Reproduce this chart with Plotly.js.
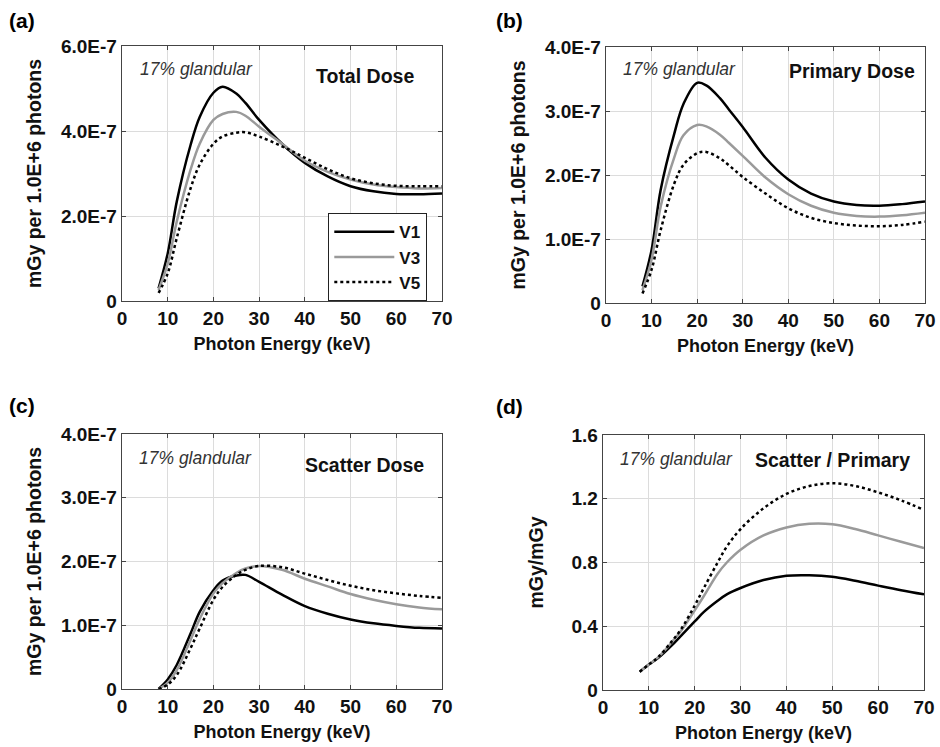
<!DOCTYPE html>
<html>
<head>
<meta charset="utf-8">
<script src="https://cdn.plot.ly/plotly-3.0.1.min.js"></script>
<style>html,body{margin:0;padding:0;background:#fff;}#chart{width:940px;height:747px;}</style>
</head>
<body>
<div id="chart"></div>
<script>
// Photon energy (keV)
const energy = [8,10,12,15,17,20,22,25,27,30,35,40,45,50,55,60,65,70];

// (a) Total dose, in units of 1.0E-7 mGy per 1.0E+6 photons
const totalV1 = [0.30,1.12,2.35,3.67,4.33,4.90,5.04,4.88,4.66,4.26,3.70,3.25,2.93,2.70,2.58,2.52,2.51,2.53];
const totalV3 = [0.26,0.88,1.88,3.09,3.70,4.26,4.40,4.45,4.36,4.10,3.70,3.30,3.04,2.86,2.74,2.68,2.65,2.66];
const totalV5 = [0.19,0.65,1.49,2.65,3.21,3.70,3.87,3.96,3.97,3.87,3.64,3.37,3.10,2.89,2.77,2.71,2.70,2.70];

// (b) Primary dose, 1.0E-7 units
const primV1 = [0.26,0.83,1.77,2.65,3.11,3.44,3.40,3.20,3.02,2.75,2.27,1.93,1.71,1.585,1.53,1.52,1.545,1.585];
const primV3 = [0.20,0.68,1.51,2.28,2.62,2.78,2.76,2.63,2.50,2.30,1.96,1.70,1.52,1.41,1.36,1.35,1.37,1.41];
const primV5 = [0.15,0.52,1.14,1.87,2.16,2.34,2.36,2.26,2.15,1.97,1.71,1.48,1.33,1.25,1.21,1.20,1.22,1.27];

// (c) Scatter dose, 1.0E-7 units
const scatV1 = [0.00,0.15,0.38,0.87,1.21,1.55,1.70,1.78,1.79,1.68,1.48,1.30,1.18,1.09,1.03,0.99,0.96,0.95];
const scatV3 = [0.00,0.10,0.30,0.77,1.10,1.50,1.66,1.82,1.89,1.93,1.87,1.73,1.61,1.49,1.40,1.33,1.28,1.25];
const scatV5 = [0.00,0.07,0.22,0.64,0.95,1.40,1.60,1.79,1.87,1.93,1.91,1.81,1.71,1.62,1.55,1.50,1.46,1.43];

// (d) Scatter / Primary ratio (mGy/mGy)
const ratioV1 = [0.115,0.16,0.20,0.28,0.34,0.43,0.49,0.56,0.60,0.64,0.69,0.717,0.72,0.71,0.685,0.655,0.626,0.60];
const ratioV3 = [0.115,0.16,0.205,0.30,0.37,0.50,0.59,0.73,0.80,0.88,0.97,1.02,1.043,1.04,1.01,0.97,0.93,0.89];
const ratioV5 = [0.115,0.16,0.205,0.305,0.38,0.53,0.64,0.80,0.90,1.01,1.14,1.23,1.28,1.297,1.28,1.24,1.19,1.13];

const seriesNames = ['V1','V3','V5'];
const xTicks = [0,10,20,30,40,50,60,70];
const yTicksA = [0,2,4,6], yTextA = ['0','2.0E-7','4.0E-7','6.0E-7'];
const yTicksB = [0,1,2,3,4], yTextB = ['0','1.0E-7','2.0E-7','3.0E-7','4.0E-7'];
const yTicksD = [0,0.4,0.8,1.2,1.6], yTextD = ['0','0.4','0.8','1.2','1.6'];
const panelLabels = ['(a)','(b)','(c)','(d)'];
const panelTitles = ['Total Dose','Primary Dose','Scatter Dose','Scatter / Primary'];
const noteText = '17% glandular';
const xTitle = 'Photon Energy (keV)';
const yTitleDose = 'mGy per 1.0E+6 photons';
const yTitleRatio = 'mGy/mGy';

const E7 = 1e-7;
const styles = [
  {color:'#000000', width:2.5, dash:'solid'},
  {color:'#9a9a9a', width:2.5, dash:'solid'},
  {color:'#000000', width:2.5, dash:'dot'}
];

const panels = [
  {data:[totalV1,totalV3,totalV5], scale:E7, xa:'x', ya:'y', legend:true},
  {data:[primV1,primV3,primV5], scale:E7, xa:'x2', ya:'y2', legend:false},
  {data:[scatV1,scatV3,scatV5], scale:E7, xa:'x3', ya:'y3', legend:false},
  {data:[ratioV1,ratioV3,ratioV5], scale:1, xa:'x4', ya:'y4', legend:false}
];

const traces = [];
panels.forEach(p => {
  p.data.forEach((vals, i) => {
    traces.push({
      x: energy,
      y: vals.map(v => v * p.scale),
      xaxis: p.xa, yaxis: p.ya,
      type: 'scatter', mode: 'lines',
      name: seriesNames[i],
      showlegend: p.legend,
      line: {color: styles[i].color, width: styles[i].width, dash: styles[i].dash, shape: 'spline', smoothing: 1}
    });
  });
});

const FONT = 'Liberation Sans, Arial, Helvetica, sans-serif';
const W = 940, H = 747;
function dx(a,b){return [a/W, b/W];}
function dy(top,bottom){return [1-bottom/H, 1-top/H];}

function xaxis(domain, anchor){
  return {
    domain: domain, anchor: anchor, range: [0,70],
    tickvals: xTicks, ticktext: xTicks.map(String),
    ticks: 'inside', ticklen: 4, tickcolor: '#444',
    showline: true, linecolor: '#444', linewidth: 1.3, mirror: 'ticks',
    showgrid: true, gridcolor: '#dcdcdc', gridwidth: 1,
    zeroline: false,
    tickfont: {family: FONT, size: 19, color: '#111', weight: 'bold'},
    title: {text: '<b>' + xTitle + '</b>', font: {family: FONT, size: 18, color: '#111'}, standoff: 9},
    fixedrange: true
  };
}
function yaxis(domain, anchor, range, vals, text, title, standoff){
  return {
    domain: domain, anchor: anchor, range: range,
    tickvals: vals, ticktext: text,
    ticks: 'inside', ticklen: 4, tickcolor: '#444',
    showline: true, linecolor: '#444', linewidth: 1.3, mirror: 'ticks',
    showgrid: true, gridcolor: '#dcdcdc', gridwidth: 1,
    zeroline: false,
    tickfont: {family: FONT, size: 19, color: '#111', weight: 'bold'},
    title: {text: '<b>' + title + '</b>', font: {family: FONT, size: 19.5, color: '#111'}, standoff: standoff},
    fixedrange: true
  };
}

const layout = {
  width: W, height: H,
  margin: {l:0, r:0, t:0, b:0},
  paper_bgcolor: '#fff', plot_bgcolor: '#fff',
  font: {family: FONT},
  showlegend: true,
  legend: {
    x: 328/W, y: 1-213/H, xanchor: 'left', yanchor: 'top',
    bgcolor: '#fff', bordercolor: '#222', borderwidth: 1.3,
    font: {family: FONT, size: 17, color: '#111', weight: 'bold'},
    itemwidth: 60, tracegroupgap: 0
  },
  xaxis:  xaxis(dx(122,442), 'y'),
  yaxis:  yaxis(dy(46,301), 'x', [0, 6*E7], yTicksA.map(v=>v*E7), yTextA, yTitleDose, 14),
  xaxis2: xaxis(dx(606,925), 'y2'),
  yaxis2: yaxis(dy(47,303), 'x2', [0, 4*E7], yTicksB.map(v=>v*E7), yTextB, yTitleDose, 14),
  xaxis3: xaxis(dx(122,442), 'y3'),
  yaxis3: yaxis(dy(434,689), 'x3', [0, 4*E7], yTicksB.map(v=>v*E7), yTextB, yTitleDose, 14),
  xaxis4: xaxis(dx(603,924), 'y4'),
  yaxis4: yaxis(dy(435,690), 'x4', [0, 1.6], yTicksD, yTextD, yTitleRatio, 22),
  annotations: []
};

// panel letters
const letterPos = [[22,20],[509,20],[22,405],[509,406]];
panelLabels.forEach((t,i) => {
  layout.annotations.push({
    xref:'paper', yref:'paper', x: letterPos[i][0]/W, y: 1-letterPos[i][1]/H,
    xanchor:'center', yanchor:'middle', showarrow:false,
    text: '<b>' + t + '</b>', font:{family: FONT, size: 21, color:'#000'}
  });
});
// notes
const notePos = [[196,69],[679,69],[195,458],[676,459]];
notePos.forEach(p => {
  layout.annotations.push({
    xref:'paper', yref:'paper', x: p[0]/W, y: 1-p[1]/H,
    xanchor:'center', yanchor:'middle', showarrow:false,
    text: '<i>' + noteText + '</i>', font:{family: FONT, size: 17.5, color:'#333'}
  });
});
// panel titles
const titlePos = [[365,76],[852,71],[364,465],[832,460]];
panelTitles.forEach((t,i) => {
  layout.annotations.push({
    xref:'paper', yref:'paper', x: titlePos[i][0]/W, y: 1-titlePos[i][1]/H,
    xanchor:'center', yanchor:'middle', showarrow:false,
    text: '<b>' + t + '</b>', font:{family: FONT, size: 19.5, color:'#111'}
  });
});

Plotly.newPlot('chart', traces, layout, {staticPlot: true, displayModeBar: false});
</script>
</body>
</html>
